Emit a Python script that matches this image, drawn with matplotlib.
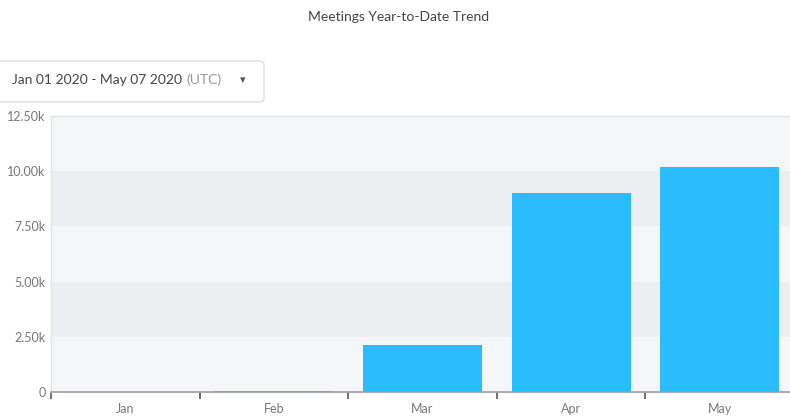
import matplotlib
matplotlib.use('Agg')
import matplotlib.pyplot as plt
from matplotlib.patches import FancyBboxPatch
import numpy as np

plt.rcParams['font.family'] = ['Lato', 'DejaVu Sans']

months = ['Jan', 'Feb', 'Mar', 'Apr', 'May']
meetings = [15, 50, 2130, 9010, 10190]
yticks = [0, 2500, 5000, 7500, 10000, 12500]
ylabels = ['0', '2.50k', '5.00k', '7.50k', '10.00k', '12.50k']

fig = plt.figure(figsize=(7.9, 4.19), dpi=100)
ax = fig.add_axes([51/790, 1 - 392/419, (794 - 51)/790, (392 - 116)/419])

# alternating background bands
for i in range(len(yticks) - 1):
    c = '#f5f6f8' if i % 2 == 0 else '#eceef1'
    ax.axhspan(yticks[i], yticks[i + 1], color=c, zorder=0, lw=0)

x = np.arange(len(months))
ax.bar(x, meetings, width=0.8, color='#2bbcfd', zorder=2)

ax.set_xlim(-0.5, len(months) - 0.5)
ax.set_ylim(0, 12500)
ax.set_yticks(yticks)
ax.set_yticklabels(ylabels)
ax.set_xticks(np.arange(-0.5, len(months) - 1, 1.0))
ax.set_xticklabels([])
ax.set_xticks(x, minor=True)
ax.set_xticklabels(months, minor=True)
ax.tick_params(axis='x', which='major', length=5, width=1.2, color='#555555', direction='out')
ax.tick_params(axis='x', which='minor', length=0, pad=8, labelsize=9, labelcolor='#777777')
ax.tick_params(axis='y', length=0, pad=4, labelsize=9, labelcolor='#777777')

for s in ['top', 'left', 'right']:
    ax.spines[s].set_color('#dfe2e6')
    ax.spines[s].set_linewidth(1)
ax.spines['bottom'].set_color('#9a9ea3')
ax.spines['bottom'].set_linewidth(1.2)

fig.text(0.505, 1 - 17/419, 'Meetings Year-to-Date Trend', ha='center', va='center',
         fontsize=10, color='#444444')

# date range selector box
box = FancyBboxPatch((-6/790, 1 - 102/419), 270/790, 41/419,
                     boxstyle='round,pad=0,rounding_size=0.008',
                     transform=fig.transFigure, facecolor='white',
                     edgecolor='#dcdfe3', lw=1)
fig.patches.append(box)
fig.text(12/790, 1 - 80/419, 'Jan 01 2020 - May 07 2020', ha='left', va='center',
         fontsize=10, color='#444444')
fig.text(186/790, 1 - 80/419, '(UTC)', ha='left', va='center',
         fontsize=10, color='#999999')
fig.text(243/790, 1 - 80/419, '\u25be', ha='center', va='center',
         fontsize=8, color='#555555', family='DejaVu Sans')

fig.savefig('out.png', dpi=100)
